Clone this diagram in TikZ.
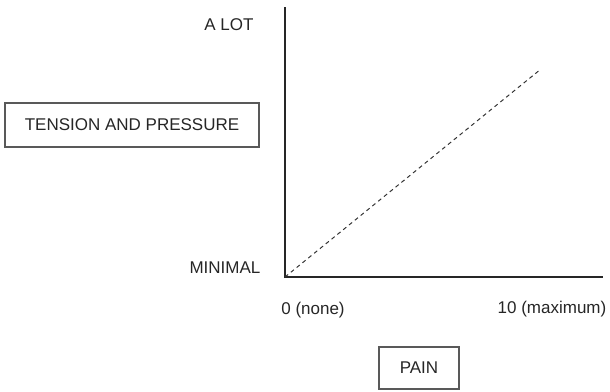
\documentclass[tikz,border=0pt]{standalone}
\usepackage{fontspec}
\setmainfont{Liberation Sans}
\begin{document}
\begin{tikzpicture}[x=1pt,y=-1pt,
  lbl/.style={font=\fontsize{17}{20}\selectfont, text=black!85, inner sep=0pt},
  boxed/.style={draw=black!65, line width=1.1pt, font=\fontsize{17}{20}\selectfont, text=black!85, inner sep=0pt},
  axis/.style={draw=black!85, line width=1.2pt},
  trend/.style={draw=black!80, line width=1pt, dash pattern=on 4pt off 3.5pt}]
\useasboundingbox (0,0) rectangle (610,391);
\coordinate (o) at (285,277);
\coordinate (ytop) at (285,7);
\coordinate (xend) at (603,277);
\coordinate (dend) at (541,69);
\draw[axis] (ytop) -- (o) -- (xend);
\draw[trend] (o) -- (dend);
\node[lbl] (alot) at (229,25) {A LOT};
\node[lbl] (minimal) at (225,268) {MINIMAL};
\node[lbl] (zero) at (313,310) {0 (none)};
\node[lbl] (ten) at (552,309) {10 (maximum)};
\node[boxed, minimum width=254pt, minimum height=44pt] (tension) at (132,125) {TENSION AND PRESSURE};
\node[boxed, minimum width=80pt, minimum height=42pt] (pain) at (419,368) {PAIN};
\end{tikzpicture}
\end{document}
